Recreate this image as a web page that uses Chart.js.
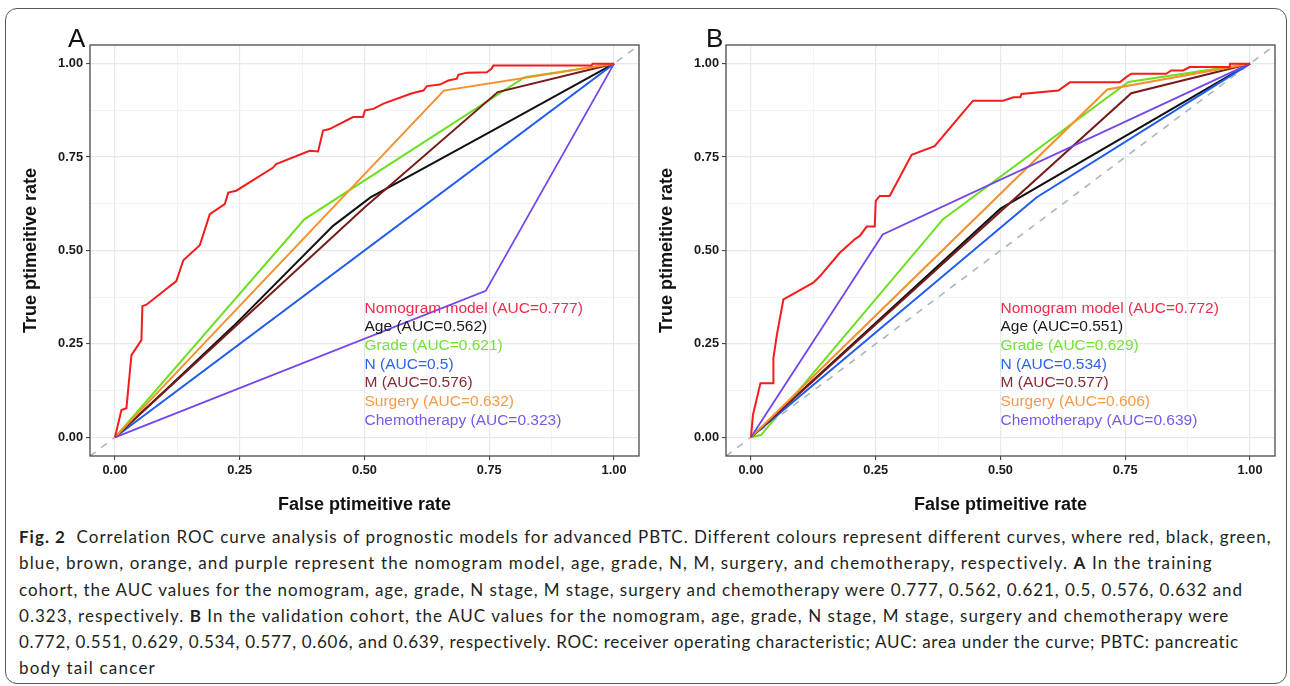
<!DOCTYPE html>
<html><head><meta charset="utf-8">
<script src="https://cdn.jsdelivr.net/npm/chart.js@4.4.1/dist/chart.umd.min.js"></script>
<style>
html,body{margin:0;padding:0;background:#fff;}
#page{position:relative;width:1290px;height:686px;overflow:hidden;background:#fff;}
#frame{position:absolute;left:5px;top:8px;width:1282px;height:676px;border:1px solid #5a5a5a;border-radius:12px;box-sizing:border-box;}
canvas{position:absolute;top:0;}
#cA{left:0;} #cB{left:636px;}
#caption{position:absolute;left:19px;top:524px;font-family:Lato,'Open Sans',sans-serif;color:#231f20;white-space:nowrap;font-size:17px;}
#caption div{height:26.3px;line-height:26.3px;}
#caption b{font-weight:700;}
</style></head>
<body><div id="page"><div id="frame"></div>
<canvas id="cA" width="645" height="520"></canvas>
<canvas id="cB" width="645" height="520"></canvas>
<div id="caption">
<div><span><b>Fig. 2</b>&nbsp;&nbsp;Correlation ROC curve analysis of prognostic models for advanced PBTC. Different colours represent different curves, where red, black, green,</span></div>
<div><span>blue, brown, orange, and purple represent the nomogram model, age, grade, N, M, surgery, and chemotherapy, respectively. <b>A</b> In the training</span></div>
<div><span>cohort, the AUC values for the nomogram, age, grade, N stage, M stage, surgery and chemotherapy were 0.777, 0.562, 0.621, 0.5, 0.576, 0.632 and</span></div>
<div><span>0.323, respectively. <b>B</b> In the validation cohort, the AUC values for the nomogram, age, grade, N stage, M stage, surgery and chemotherapy were</span></div>
<div><span>0.772, 0.551, 0.629, 0.534, 0.577, 0.606, and 0.639, respectively. ROC: receiver operating characteristic; AUC: area under the curve; PBTC: pancreatic</span></div>
<div><span>body tail cancer</span></div>
</div></div>
<script>
// ---------- labels ----------
const seriesNames = ['Nomogram model','Age','Grade','N','M','Surgery','Chemotherapy'];
const seriesColors = ['#f41c1c','#111111','#6ddf1f','#1f5bf2','#7a1b1b','#f78f2a','#7445ee'];
const textColors   = ['#ee2b4b','#1a1a1a','#76e03a','#2e62f0','#8a2a36','#f59a48','#7a58ee'];
const aucA = ['0.777','0.562','0.621','0.5','0.576','0.632','0.323'];
const aucB = ['0.772','0.551','0.629','0.534','0.577','0.606','0.639'];
const tickValues = [0,0.25,0.5,0.75,1];
const tickLabels = ['0.00','0.25','0.50','0.75','1.00'];
const minorTickValues = [0.125,0.375,0.625,0.875];
const diagX = [-0.05,1.05];
const diagY = [-0.05,1.05];

// ---------- Panel A (training) ----------
const A_nomogram_fpr = [0,0.013,0.023,0.033,0.053,0.055,0.063,0.123,0.137,0.17,0.19,0.22,0.227,0.243,0.317,0.323,0.39,0.407,0.417,0.43,0.477,0.497,0.501,0.518,0.538,0.591,0.605,0.618,0.625,0.651,0.668,0.685,0.688,0.705,0.745,0.755,0.758,0.955,0.957,1];
const A_nomogram_tpr = [0,0.073,0.078,0.22,0.26,0.351,0.355,0.418,0.474,0.514,0.597,0.624,0.655,0.66,0.722,0.731,0.767,0.765,0.821,0.825,0.857,0.857,0.875,0.879,0.893,0.919,0.924,0.928,0.94,0.944,0.955,0.96,0.97,0.976,0.977,0.987,0.995,0.995,1,1];
const A_age_fpr = [0,0.1,0.237,0.437,0.512,0.75,1];
const A_age_tpr = [0,0.125,0.297,0.566,0.642,0.816,1];
const A_grade_fpr = [0,0.38,0.821,1];
const A_grade_tpr = [0,0.584,0.964,1];
const A_n_fpr = [0,1];
const A_n_tpr = [0,1];
const A_m_fpr = [0,0.5,0.767,1];
const A_m_tpr = [0,0.615,0.924,1];
const A_surgery_fpr = [0,0.659,1];
const A_surgery_tpr = [0,0.928,1];
const A_chemo_fpr = [0,0.743,1];
const A_chemo_tpr = [0,0.392,1];

// ---------- Panel B (validation) ----------
const B_nomogram_fpr = [0,0.004,0.019,0.045,0.045,0.052,0.065,0.125,0.138,0.178,0.208,0.218,0.232,0.248,0.25,0.258,0.278,0.322,0.368,0.431,0.445,0.505,0.526,0.54,0.542,0.616,0.639,0.739,0.752,0.762,0.832,0.842,0.866,0.879,0.959,0.96,1];
const B_nomogram_tpr = [0,0.06,0.145,0.145,0.212,0.275,0.369,0.414,0.431,0.494,0.53,0.539,0.564,0.564,0.633,0.646,0.646,0.756,0.779,0.879,0.901,0.901,0.91,0.91,0.919,0.928,0.95,0.95,0.964,0.973,0.973,0.982,0.982,0.991,0.991,1,1];
const B_age_fpr = [0,0.5,1];
const B_age_tpr = [0,0.612,1];
const B_grade_fpr = [0,0.02,0.385,0.756,1];
const B_grade_tpr = [0,0.006,0.584,0.951,1];
const B_n_fpr = [0,0.572,1];
const B_n_tpr = [0,0.642,1];
const B_m_fpr = [0,0.762,1];
const B_m_tpr = [0,0.921,1];
const B_surgery_fpr = [0,0.714,1];
const B_surgery_tpr = [0,0.931,1];
const B_chemo_fpr = [0,0.264,1];
const B_chemo_tpr = [0,0.543,1];

// ---------- drawing ----------
const SANS = '"Liberation Sans", Arial, Helvetica, sans-serif';
const allTicks = tickValues.concat(minorTickValues).sort((a,b)=>a-b);
const isMajor = v => tickValues.some(t => Math.abs(t - v) < 1e-9);
const mk = (f,t) => f.map((x,i)=>({x:x, y:t[i]}));

function axis(isX){
  return {
    type:'linear', min:-0.05, max:1.05,
    afterBuildTicks: s => { s.ticks = allTicks.map(v=>({value:v})); },
    afterFit: s => { if (isX) s.height = 64; else s.width = 90; },
    border:{display:false},
    grid:{
      drawTicks:true, tickLength:4,
      color: c => (c.tick && isMajor(c.tick.value)) ? '#e4e9ec' : '#eef1f3',
      lineWidth: c => (c.tick && isMajor(c.tick.value)) ? 1.2 : 0.8,
      tickColor: c => (c.tick && isMajor(c.tick.value)) ? '#333333' : 'rgba(0,0,0,0)',
      tickWidth: 1
    },
    ticks:{
      autoSkip:false, maxRotation:0, padding:3, color:'#1a1a1a',
      font:{family:SANS, size:12.8, weight:'bold'},
      callback: v => { const i = tickValues.findIndex(t=>Math.abs(t-v)<1e-9); return i>=0 ? tickLabels[i] : ''; }
    }
  };
}

function makeChart(id, letter, letterX, fprs, tprs, aucs){
  const datasets = fprs.map((f,i)=>({
    label: seriesNames[i], data: mk(f, tprs[i]), borderColor: seriesColors[i],
    borderWidth: i===6 ? 1.8 : 2, pointRadius:0, showLine:true, fill:false, tension:0,
    order: i===0 ? 0 : 8 - i
  }));
  datasets.push({label:'ref', data: mk(diagX, diagY), borderColor:'#aab6be', borderWidth:1.6,
    borderDash:[7,7], pointRadius:0, showLine:true, fill:false, order:100});
  const deco = {
    id:'deco'+id,
    afterDraw(chart){
      const ctx = chart.ctx, a = chart.chartArea, x = chart.scales.x, y = chart.scales.y;
      ctx.save();
      ctx.strokeStyle = '#4a4a4a'; ctx.lineWidth = 1.3;
      ctx.strokeRect(a.left, a.top, a.right - a.left, a.bottom - a.top);
      ctx.font = '15.5px ' + SANS; ctx.textAlign = 'left'; ctx.textBaseline = 'middle';
      seriesNames.forEach((n,i)=>{
        ctx.fillStyle = textColors[i];
        ctx.fillText(n + ' (AUC=' + aucs[i] + ')', x.getPixelForValue(0.5), y.getPixelForValue(0.345 - 0.05*i));
      });
      ctx.fillStyle = '#111111'; ctx.font = 'bold 18px ' + SANS; ctx.textAlign = 'center';
      ctx.fillText('False ptimeitive rate', (a.left + a.right)/2, 505);
      ctx.save(); ctx.translate(a.left - 59, (a.top + a.bottom)/2); ctx.rotate(-Math.PI/2);
      ctx.fillText('True ptimeitive rate', 0, 0); ctx.restore();
      ctx.font = '26px ' + SANS; ctx.textAlign = 'left'; ctx.textBaseline = 'alphabetic';
      ctx.fillText(letter, letterX, 47);
      ctx.restore();
    }
  };
  return new Chart(document.getElementById(id), {
    type:'scatter',
    data:{datasets:datasets},
    options:{
      responsive:false, animation:false, devicePixelRatio:1,
      layout:{padding:{left:0, top:45, right:6, bottom:0}},
      plugins:{legend:{display:false}, tooltip:{enabled:false}},
      scales:{x:axis(true), y:axis(false)}
    },
    plugins:[deco]
  });
}

makeChart('cA','A',68,
  [A_nomogram_fpr,A_age_fpr,A_grade_fpr,A_n_fpr,A_m_fpr,A_surgery_fpr,A_chemo_fpr],
  [A_nomogram_tpr,A_age_tpr,A_grade_tpr,A_n_tpr,A_m_tpr,A_surgery_tpr,A_chemo_tpr], aucA);
makeChart('cB','B',70,
  [B_nomogram_fpr,B_age_fpr,B_grade_fpr,B_n_fpr,B_m_fpr,B_surgery_fpr,B_chemo_fpr],
  [B_nomogram_tpr,B_age_tpr,B_grade_tpr,B_n_tpr,B_m_tpr,B_surgery_tpr,B_chemo_tpr], aucB);

// fit each caption line to the width it has in the reference (letter-spacing only)
(function(){
  const lineEnds = [1271, 1213, 1243, 1230, 1240, 156];
  const spans = document.querySelectorAll('#caption span');
  spans.forEach((s,i)=>{
    const w = s.getBoundingClientRect().width;
    const n = s.textContent.length;
    const target = lineEnds[i] - 19;
    if (w > 0 && n > 0) s.style.letterSpacing = ((target - w) / n).toFixed(3) + 'px';
  });
})();
</script>
</body></html>
